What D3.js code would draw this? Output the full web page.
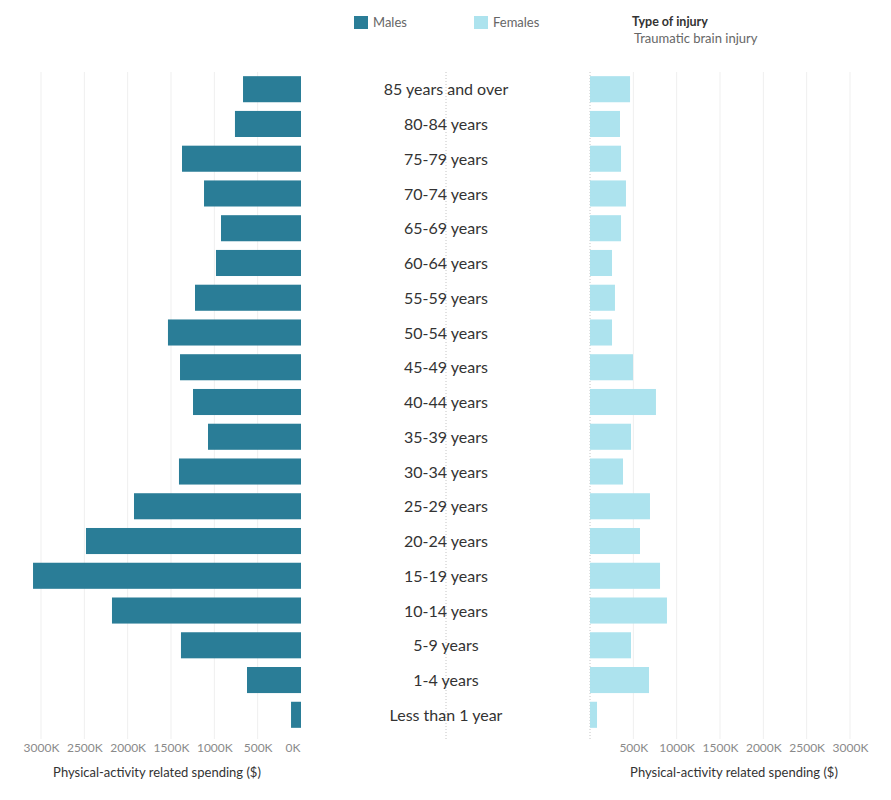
<!DOCTYPE html>
<html>
<head>
<meta charset="utf-8">
<script src="https://cdn.jsdelivr.net/npm/d3@7"></script>
<style>
	body { margin: 0; background: #fff; }
	svg text { font-family: Lato, "Open Sans", sans-serif; }
</style>
</head>
<body>
<div id="chart"></div>
<script>
// age groups, top to bottom
const ages = ["85 years and over", "80-84 years", "75-79 years", "70-74 years", "65-69 years",
	"60-64 years", "55-59 years", "50-54 years", "45-49 years", "40-44 years", "35-39 years",
	"30-34 years", "25-29 years", "20-24 years", "15-19 years", "10-14 years", "5-9 years",
	"1-4 years", "Less than 1 year"];

// spending in thousands of dollars
const males = [669, 762, 1373, 1119, 923, 981, 1223, 1535, 1396, 1246, 1073, 1408, 1927, 2481, 3092, 2181, 1385, 623, 115];
const females = [462, 346, 358, 415, 358, 254, 288, 254, 496, 761, 473, 381, 692, 577, 808, 888, 473, 681, 81];

const leftTicks = [0, 500, 1000, 1500, 2000, 2500, 3000];
const rightTicks = [500, 1000, 1500, 2000, 2500, 3000];

const W = 891, H = 800;
const plotTop = 72, plotBottom = 733;
const maleColor = "#2a7d97", femaleColor = "#ade3ee";

const svg = d3.select("#chart").append("svg")
	.attr("width", W)
	.attr("height", H);

const y = d3.scaleBand()
	.domain(ages)
	.range([plotTop, 732])
	.paddingInner(0.25)
	.paddingOuter(0.12);

const xL = d3.scaleLinear().domain([0, 3000]).range([301, 41]);
const xR = d3.scaleLinear().domain([0, 3000]).range([590, 850]);

// gridlines
function grid(scale, ticks) {
	svg.append("g")
		.selectAll("line")
		.data(ticks)
		.enter()
		.append("line")
		.attr("x1", d => scale(d))
		.attr("x2", d => scale(d))
		.attr("y1", plotTop)
		.attr("y2", plotBottom + 6)
		.attr("stroke", "#efefef")
		.attr("stroke-width", 1);
}
grid(xL, leftTicks.filter(d => d > 0));
grid(xR, rightTicks);

// dotted centre and right zero lines
[446, xR(0)].forEach(x => {
	svg.append("line")
		.attr("x1", x).attr("x2", x)
		.attr("y1", plotTop).attr("y2", plotBottom + 6)
		.attr("stroke", "#c4c4c4")
		.attr("stroke-dasharray", "1,2");
});

// male bars
svg.append("g")
	.selectAll("rect")
	.data(ages)
	.enter()
	.append("rect")
	.attr("x", (d, i) => xL(males[i]))
	.attr("y", d => y(d))
	.attr("width", (d, i) => xL(0) - xL(males[i]))
	.attr("height", y.bandwidth())
	.attr("fill", maleColor);

// female bars
svg.append("g")
	.selectAll("rect")
	.data(ages)
	.enter()
	.append("rect")
	.attr("x", xR(0))
	.attr("y", d => y(d))
	.attr("width", (d, i) => xR(females[i]) - xR(0))
	.attr("height", y.bandwidth())
	.attr("fill", femaleColor);

// age labels
svg.append("g")
	.selectAll("text")
	.data(ages)
	.enter()
	.append("text")
	.attr("x", 446)
	.attr("y", d => y(d) + y.bandwidth() / 2)
	.attr("dy", "0.38em")
	.attr("text-anchor", "middle")
	.attr("font-size", "16px")
	.attr("fill", "#333")
	.text(d => d);

// axes
const axL = svg.append("g")
	.attr("transform", `translate(0, ${plotBottom})`)
	.call(d3.axisBottom(xL).tickValues(leftTicks).tickFormat(d => d + "K").tickSize(0).tickPadding(10));
axL.select(".domain").remove();
axL.selectAll("text")
	.attr("font-size", "12px")
	.attr("fill", "#8a8a8a")
	.filter(d => d === 0)
	.attr("text-anchor", "end")
	.attr("dx", "-1");

const axR = svg.append("g")
	.attr("transform", `translate(0, ${plotBottom})`)
	.call(d3.axisBottom(xR).tickValues(rightTicks).tickFormat(d => d + "K").tickSize(0).tickPadding(10));
axR.select(".domain").remove();
axR.selectAll("text")
	.attr("font-size", "12px")
	.attr("fill", "#8a8a8a");

svg.append("text")
	.attr("x", 157).attr("y", 777)
	.attr("text-anchor", "middle")
	.attr("font-size", "13px")
	.attr("fill", "#333")
	.text("Physical-activity related spending ($)");

svg.append("text")
	.attr("x", 734).attr("y", 777)
	.attr("text-anchor", "middle")
	.attr("font-size", "13px")
	.attr("fill", "#333")
	.text("Physical-activity related spending ($)");

// legend
const legend = [["Males", maleColor, 354], ["Females", femaleColor, 474]];
legend.forEach(([name, c, x]) => {
	svg.append("rect")
		.attr("x", x).attr("y", 16)
		.attr("width", 14).attr("height", 13)
		.attr("fill", c);
	svg.append("text")
		.attr("x", x + 19).attr("y", 27)
		.attr("font-size", "13px")
		.attr("fill", "#666")
		.text(name);
});

svg.append("text")
	.attr("x", 632).attr("y", 26)
	.attr("font-size", "12.5px")
	.attr("font-weight", "bold")
	.attr("fill", "#333")
	.text("Type of injury");

svg.append("text")
	.attr("x", 634).attr("y", 43)
	.attr("font-size", "13px")
	.attr("fill", "#666")
	.text("Traumatic brain injury");
</script>
</body>
</html>
